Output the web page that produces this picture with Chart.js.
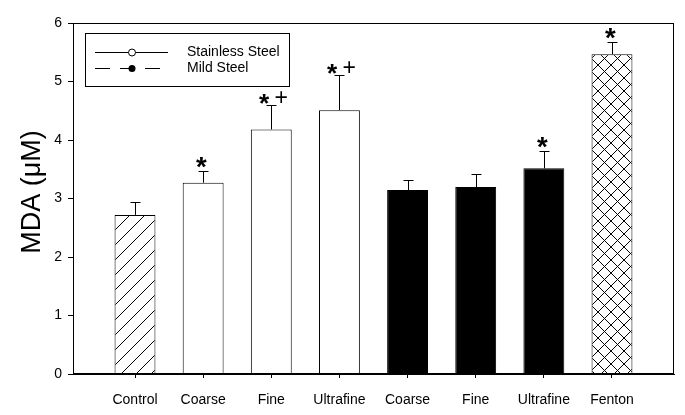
<!DOCTYPE html>
<html>
<head>
<meta charset="utf-8">
<script src="https://cdn.jsdelivr.net/npm/chart.js@4.4.1/dist/chart.umd.min.js"></script>
<style>
  html, body { margin: 0; padding: 0; background: #fff; }
  #wrap { width: 685px; height: 415px; position: relative; }
</style>
</head>
<body>
<div id="wrap"><canvas id="c" width="685" height="415"></canvas></div>
<script>
// ---- data ----
const categories = ['Control', 'Coarse', 'Fine', 'Ultrafine', 'Coarse', 'Fine', 'Ultrafine', 'Fenton'];
const groups = ['control', 'stainless', 'stainless', 'stainless', 'mild', 'mild', 'mild', 'fenton'];
const values = [2.72, 3.27, 4.18, 4.51, 3.145, 3.195, 3.515, 5.465];
const errors = [0.225, 0.205, 0.42, 0.60, 0.175, 0.225, 0.295, 0.215];
const markers = ['', '*', '*+', '*+', '', '', '*', '*'];
const yTicks = [0, 1, 2, 3, 4, 5, 6];
const legendLabels = ['Stainless Steel', 'Mild Steel'];
const yTitle = 'MDA (\u03BCM)';

const FONT = '"Liberation Sans", Arial, sans-serif';

function makePattern(kind) {
  const s = kind === 'hatch' ? 15 : 13;
  const cv = document.createElement('canvas');
  cv.width = s; cv.height = s;
  const g = cv.getContext('2d');
  g.fillStyle = '#fff';
  g.fillRect(0, 0, s, s);
  g.strokeStyle = '#000';
  g.lineWidth = 1;
  g.beginPath();
  g.moveTo(-1, s + 1); g.lineTo(s + 1, -1);
  if (kind === 'cross') { g.moveTo(-1, -1); g.lineTo(s + 1, s + 1); }
  g.stroke();
  return g.createPattern(cv, 'repeat');
}

const fills = {
  control: makePattern('hatch'),
  stainless: '#ffffff',
  mild: '#000000',
  fenton: makePattern('cross')
};

const barData = values.map((v, i) => ({ x: i, y: v }));

// draw a glyph so that its ink box is centred at (cx, cy) with given ink height
function glyphAt(ctx, ch, cx, cy, inkH, weight) {
  const w = weight ? weight + ' ' : '';
  ctx.font = w + '40px ' + FONT;
  let m = ctx.measureText(ch);
  let h = m.actualBoundingBoxAscent + m.actualBoundingBoxDescent;
  const size = 40 * inkH / (h || 1);
  ctx.font = w + size + 'px ' + FONT;
  m = ctx.measureText(ch);
  const left = -m.actualBoundingBoxLeft, right = m.actualBoundingBoxRight;
  const top = -m.actualBoundingBoxAscent, bot = m.actualBoundingBoxDescent;
  ctx.textAlign = 'left';
  ctx.textBaseline = 'alphabetic';
  ctx.fillText(ch, cx - (left + right) / 2, cy - (top + bot) / 2);
}

const decoPlugin = {
  id: 'deco',
  afterDatasetsDraw(chart) {
    const ctx = chart.ctx;
    const ys = chart.scales.y;
    const meta = chart.getDatasetMeta(0);
    ctx.save();
    ctx.strokeStyle = '#000';
    ctx.lineWidth = 1;
    meta.data.forEach((bar, i) => {
      const x = Math.round(bar.x) + 0.5;
      const yTop = ys.getPixelForValue(values[i]);
      const yErr = Math.round(ys.getPixelForValue(values[i] + errors[i])) + 0.5;
      ctx.beginPath();
      ctx.moveTo(x, yTop);
      ctx.lineTo(x, yErr);
      ctx.moveTo(x - 5, yErr);
      ctx.lineTo(x + 5, yErr);
      ctx.stroke();
      const m = markers[i];
      if (m) {
        ctx.fillStyle = '#000';
        if (m === '*') {
          glyphAt(ctx, '*', x - 2, yErr - 9, 11, 'bold');
        } else {
          glyphAt(ctx, '*', x - 7, yErr - 6.5, 10.5, 'bold');
          glyphAt(ctx, '+', x + 10, yErr - 9, 11.5);
        }
      }
    });
    ctx.restore();
  },
  afterDraw(chart) {
    const ctx = chart.ctx;
    const a = chart.chartArea;
    ctx.save();
    ctx.strokeStyle = '#000';
    ctx.lineWidth = 1;
    ctx.strokeRect(Math.round(a.left) + 0.5, Math.round(a.top) + 0.5,
                   Math.round(a.right - a.left) - 1, Math.round(a.bottom - a.top) - 1);
    // legend box
    const lx = 85, ly = 33, lw = 204, lh = 53;
    ctx.fillStyle = '#fff';
    ctx.fillRect(lx, ly, lw, lh);
    ctx.strokeRect(lx + 0.5, ly + 0.5, lw, lh);
    const r1 = 52.5, r2 = 68.5;
    ctx.beginPath();
    ctx.moveTo(95, r1); ctx.lineTo(168, r1);
    ctx.stroke();
    ctx.beginPath();
    ctx.arc(132, r1, 3.5, 0, Math.PI * 2);
    ctx.fillStyle = '#fff';
    ctx.fill();
    ctx.stroke();
    ctx.setLineDash([15, 10]);
    ctx.beginPath();
    ctx.moveTo(95, r2); ctx.lineTo(168, r2);
    ctx.stroke();
    ctx.setLineDash([]);
    ctx.beginPath();
    ctx.arc(132, r2, 3.5, 0, Math.PI * 2);
    ctx.fillStyle = '#000';
    ctx.fill();
    ctx.fillStyle = '#000';
    ctx.font = '14px ' + FONT;
    ctx.textAlign = 'left';
    ctx.textBaseline = 'middle';
    ctx.fillText(legendLabels[0], 187, r1);
    ctx.fillText(legendLabels[1], 187, r2);
    // y title
    ctx.save();
    ctx.translate(33, 192);
    ctx.rotate(-Math.PI / 2);
    ctx.font = '27px ' + FONT;
    ctx.textAlign = 'center';
    ctx.textBaseline = 'middle';
    ctx.fillText(yTitle, 0, 0);
    ctx.restore();
    ctx.restore();
  }
};

new Chart(document.getElementById('c'), {
  type: 'bar',
  data: {
    datasets: [{
      data: barData,
      backgroundColor: groups.map(g => fills[g]),
      borderColor: '#000',
      borderWidth: 1,
      barPercentage: 0.6,
      categoryPercentage: 1.0
    }]
  },
  options: {
    responsive: false,
    animation: false,
    layout: { padding: { top: 23, right: 11, left: 0, bottom: 0 } },
    plugins: { legend: { display: false }, tooltip: { enabled: false } },
    scales: {
      x: {
        type: 'linear',
        offset: false,
        min: -0.91,
        max: 7.91,
        afterBuildTicks(scale) { scale.ticks = categories.map((_, i) => ({ value: i })); },
        afterFit(scale) { scale.height = 41; },
        grid: { display: true, offset: false, drawOnChartArea: false, drawTicks: true, tickLength: 4, color: '#000' },
        border: { display: true, color: '#000' },
        ticks: {
          autoSkip: false, maxRotation: 0, padding: 14,
          color: '#000', font: { family: FONT, size: 14 },
          callback: (v) => categories[v]
        }
      },
      y: {
        min: 0, max: 6,
        afterBuildTicks(scale) { scale.ticks = yTicks.map(v => ({ value: v })); },
        afterFit(scale) { scale.width = 73; },
        grid: { display: true, drawOnChartArea: false, drawTicks: true, tickLength: 5, color: '#000' },
        border: { display: true, color: '#000' },
        ticks: { padding: 6, color: '#000', font: { family: FONT, size: 14 } }
      }
    }
  },
  plugins: [decoPlugin]
});
</script>
</body>
</html>
